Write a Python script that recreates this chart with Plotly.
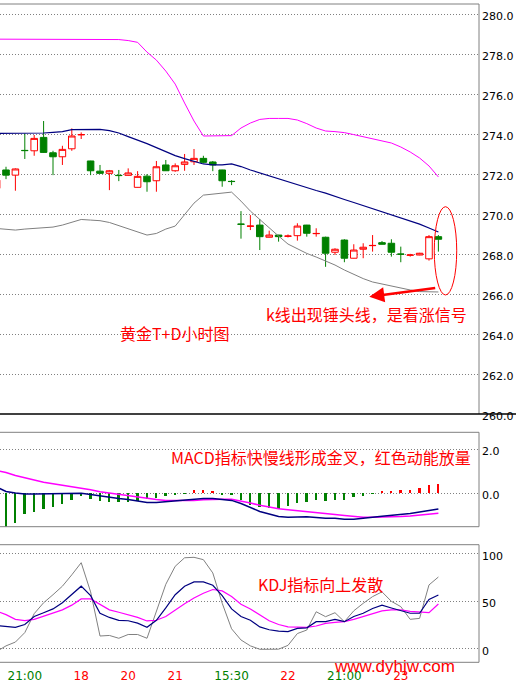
import plotly.graph_objects as go

W, H = 516, 683

# ---------------- data ----------------
candle_idx = list(range(48))
opens = [271.30, 272.22, 271.96, 273.20, 273.18, 273.85, 273.08, 272.88, 273.28, 273.98,
         272.67, 272.16, 272.05, 271.95, 271.95, 271.35, 271.91, 271.68, 272.47, 272.18,
         272.50, 272.63, 272.80, 272.62, 272.22, 271.65, 269.51, 269.40, 269.46, 268.85,
         268.96, 268.90, 268.93, 269.46, 269.03, 268.85, 268.10, 268.71, 267.80, 268.25,
         268.43, 268.58, 268.55, 268.01, 267.95, 267.96, 267.77, 268.88]
highs = [271.80, 272.38, 272.30, 274.05, 273.97, 274.67, 273.18, 273.43, 274.30, 274.10,
         272.68, 272.47, 272.22, 272.22, 272.30, 272.16, 272.01, 272.67, 272.72, 272.55,
         273.02, 273.27, 272.93, 272.67, 272.23, 271.71, 270.16, 269.96, 269.76, 269.18,
         268.97, 268.99, 269.55, 269.47, 269.30, 268.88, 268.30, 268.75, 268.50, 268.55,
         268.96, 268.66, 268.75, 268.38, 268.02, 268.07, 268.96, 268.96]
lows = [271.20, 271.76, 271.18, 272.77, 272.93, 273.08, 271.96, 272.47, 273.18, 273.77,
        271.96, 272.05, 271.21, 271.66, 271.94, 271.34, 271.13, 271.13, 272.18, 272.13,
        272.18, 272.47, 272.55, 272.16, 271.38, 271.46, 268.78, 269.21, 268.21, 268.84,
        268.63, 268.84, 268.68, 268.88, 268.88, 267.37, 267.96, 267.60, 267.79, 267.80,
        268.13, 268.49, 267.88, 267.60, 267.88, 267.95, 267.68, 268.13]
closes = [271.71, 271.96, 272.27, 273.19, 273.80, 273.10, 272.88, 273.25, 273.92, 273.99,
          272.18, 272.05, 272.18, 271.94, 272.07, 271.90, 271.63, 272.38, 272.18, 272.43,
          272.62, 272.80, 272.60, 272.47, 271.68, 271.64, 269.50, 269.41, 268.88, 268.96,
          268.88, 268.91, 269.41, 269.05, 269.04, 268.05, 268.25, 267.80, 268.21, 268.35,
          268.44, 268.50, 268.10, 268.00, 267.96, 268.05, 268.88, 268.75]

boll_upper = [278.77, 278.77, 278.77, 278.77, 278.77, 278.77, 278.77, 278.77, 278.77, 278.77,
              278.77, 278.77, 278.77, 278.75, 278.70, 278.61, 278.12, 277.72, 277.17, 276.52,
              275.57, 274.67, 273.92, 273.92, 273.92, 273.94, 274.32, 274.57, 274.75, 274.80,
              274.80, 274.80, 274.72, 274.54, 274.32, 274.17, 274.14, 274.09, 273.99, 273.89,
              273.77, 273.67, 273.57, 273.37, 273.12, 272.82, 272.42, 271.87]
boll_mid = [274.05, 274.05, 274.05, 274.05, 274.05, 274.07, 274.10, 274.14, 274.24, 274.25,
            274.25, 274.25, 274.19, 274.07, 273.89, 273.72, 273.54, 273.34, 273.12, 272.94,
            272.79, 272.64, 272.52, 272.47, 272.47, 272.52, 272.39, 272.22, 272.07, 271.91,
            271.76, 271.61, 271.46, 271.31, 271.19, 271.06, 270.89, 270.74, 270.59, 270.44,
            270.29, 270.14, 269.99, 269.84, 269.69, 269.51, 269.31, 269.11]
boll_lower = [269.29, 269.24, 269.21, 269.26, 269.30, 269.34, 269.36, 269.46, 269.59, 269.74,
              269.71, 269.68, 269.59, 269.44, 269.29, 269.14, 268.96, 269.04, 269.26, 269.41,
              270.01, 270.56, 270.96, 271.01, 271.09, 271.11, 270.66, 270.16, 269.74, 269.31,
              268.91, 268.51, 268.26, 268.04, 267.86, 267.66, 267.46, 267.21, 266.98, 266.78,
              266.61, 266.51, 266.38, 266.29, 266.21, 266.13, 266.11, 266.11]

macd_dif = [0.28, 0.08, 0.01, -0.03, -0.03, -0.03, -0.03, -0.03, -0.01, 0.00,
            -0.05, -0.12, -0.19, -0.23, -0.28, -0.35, -0.42, -0.42, -0.38, -0.37,
            -0.32, -0.27, -0.23, -0.23, -0.27, -0.32, -0.46, -0.63, -0.82, -0.93,
            -1.05, -1.08, -1.06, -1.06, -1.09, -1.13, -1.13, -1.17, -1.17, -1.14,
            -1.08, -1.04, -1.00, -0.97, -0.91, -0.84, -0.78, -0.71]
macd_dea = [1.03, 0.94, 0.80, 0.69, 0.59, 0.50, 0.43, 0.37, 0.31, 0.24,
            0.16, 0.07, 0.01, -0.04, -0.11, -0.19, -0.24, -0.28, -0.32, -0.33,
            -0.33, -0.32, -0.29, -0.27, -0.27, -0.27, -0.34, -0.44, -0.54, -0.63,
            -0.70, -0.74, -0.79, -0.83, -0.87, -0.91, -0.96, -1.00, -1.04, -1.08,
            -1.08, -1.08, -1.07, -1.05, -1.03, -0.99, -0.94, -0.90]
macd_hist = [-1.60, -1.55, -1.35, -0.95, -0.88, -0.72, -0.63, -0.50, -0.33, -0.15,
             -0.27, -0.38, -0.42, -0.41, -0.41, -0.38, -0.27, -0.23, -0.15, -0.08,
             -0.02, 0.12, 0.15, 0.10, -0.05, -0.05, -0.33, -0.53, -0.63, -0.68,
             -0.72, -0.60, -0.45, -0.41, -0.30, -0.35, -0.30, -0.30, -0.20, -0.12,
             -0.02, 0.10, 0.10, 0.12, 0.15, 0.23, 0.34, 0.41]

kdj_k = [24.5, 23.5, 22.6, 25.5, 34.0, 38.0, 42.0, 48.5, 57.0, 66.0,
         56.0, 37.4, 33.0, 30.0, 29.5, 27.0, 22.6, 30.0, 43.0, 57.0,
         66.0, 70.5, 70.5, 67.0, 56.0, 42.0, 34.0, 30.0, 23.0, 20.0,
         18.5, 18.0, 21.5, 22.0, 28.5, 28.5, 31.0, 28.5, 34.0, 37.4,
         42.5, 46.0, 43.0, 40.0, 37.4, 37.4, 52.0, 56.7]
kdj_d = [39.5, 36.0, 31.0, 29.7, 31.0, 34.5, 37.5, 41.0, 46.0, 52.5,
         52.5, 47.0, 41.0, 38.5, 36.0, 33.0, 29.3, 30.0, 34.0, 41.0,
         47.5, 53.5, 58.5, 62.5, 61.0, 55.0, 47.0, 42.0, 35.6, 29.5,
         25.5, 23.0, 22.8, 22.6, 24.0, 26.8, 27.8, 28.5, 31.0, 33.8,
         36.5, 40.0, 40.9, 40.9, 39.5, 38.5, 38.0, 47.2]
kdj_j = [-3.0, 3.0, 7.0, 17.0, 37.0, 48.5, 57.0, 66.0, 78.0, 90.8,
         60.0, 13.4, 14.0, 11.0, 15.0, 15.0, 11.0, 39.0, 68.0, 87.0,
         96.0, 96.5, 94.0, 80.0, 48.0, 21.0, 9.2, 3.0, -0.6, -0.6,
         -0.5, 3.5, 16.0, 19.7, 39.0, 33.8, 38.0, 28.5, 40.0, 47.9,
         55.0, 60.0, 50.0, 44.4, 31.0, 32.0, 67.3, 75.7]

x_tick_idx = [3, 9, 14, 19, 25, 31, 37, 43]
x_tick_labels = ["21:00", "18", "20", "21", "15:30", "22", "21:00", "23"]
x_tick_colors = ["#008000", "#ff0000", "#ff0000", "#ff0000", "#008000", "#ff0000", "#008000", "#ff0000"]
price_ticks = [260, 262, 264, 266, 268, 270, 272, 274, 276, 278, 280]
macd_ticks = [0, 2]
kdj_ticks = [0, 50, 100]

# ---------------- styling helpers ----------------
RED = "#ff0000"
GREEN = "#008000"
NAVY = "#000080"
MAGENTA = "#ff00ff"
GRAY = "#808080"


def px(x):
    return x / W


def py(y):
    return 1 - y / H


fig = go.Figure()

# main panel: candles + bollinger
fig.add_trace(go.Candlestick(
    x=candle_idx, open=opens, high=highs, low=lows, close=closes,
    increasing=dict(line=dict(color=RED, width=1), fillcolor="#ffffff"),
    decreasing=dict(line=dict(color=GREEN, width=1), fillcolor=GREEN),
    xaxis="x", yaxis="y", showlegend=False, hoverinfo="skip"))
fig.add_trace(go.Scatter(x=candle_idx, y=boll_upper, mode="lines",
                         line=dict(color=MAGENTA, width=1), xaxis="x", yaxis="y", showlegend=False))
fig.add_trace(go.Scatter(x=candle_idx, y=boll_mid, mode="lines",
                         line=dict(color=NAVY, width=1.2), xaxis="x", yaxis="y", showlegend=False))
fig.add_trace(go.Scatter(x=candle_idx, y=boll_lower, mode="lines",
                         line=dict(color=GRAY, width=1), xaxis="x", yaxis="y", showlegend=False))

# MACD panel
fig.add_trace(go.Bar(x=candle_idx, y=macd_hist, width=0.2,
                     marker=dict(color=[RED if v > 0 else GREEN for v in macd_hist], line=dict(width=0)),
                     xaxis="x", yaxis="y2", showlegend=False))
fig.add_trace(go.Scatter(x=candle_idx, y=macd_dea, mode="lines",
                         line=dict(color=MAGENTA, width=1.5), xaxis="x", yaxis="y2", showlegend=False))
fig.add_trace(go.Scatter(x=candle_idx, y=macd_dif, mode="lines",
                         line=dict(color=NAVY, width=1.5), xaxis="x", yaxis="y2", showlegend=False))

# KDJ panel
fig.add_trace(go.Scatter(x=candle_idx, y=kdj_j, mode="lines",
                         line=dict(color=GRAY, width=1), xaxis="x", yaxis="y3", showlegend=False))
fig.add_trace(go.Scatter(x=candle_idx, y=kdj_d, mode="lines",
                         line=dict(color=MAGENTA, width=1.2), xaxis="x", yaxis="y3", showlegend=False))
fig.add_trace(go.Scatter(x=candle_idx, y=kdj_k, mode="lines",
                         line=dict(color=NAVY, width=1.2), xaxis="x", yaxis="y3", showlegend=False))

XR = 479
tick_font = dict(family="DejaVu Sans", size=11, color="#000000")

yaxis_common = dict(side="right", anchor="x", showgrid=True, gridcolor=GRAY, griddash="1px,2px",
                    gridwidth=1, zeroline=False, showline=False, ticks="", automargin=False,
                    tickfont=tick_font, ticklabelstandoff=2, ticklabelshift=2, fixedrange=True)

fig.update_layout(
    width=W, height=H, template="none",
    margin=dict(l=0, r=0, t=0, b=0),
    paper_bgcolor="#ffffff", plot_bgcolor="#ffffff",
    showlegend=False, boxgap=0.15, boxgroupgap=0.18, bargap=0,
    xaxis=dict(domain=[0, px(XR)], range=[0.362, 51.32], anchor="y3",
               rangeslider=dict(visible=False), showgrid=False, zeroline=False,
               showline=False, ticks="", automargin=False,
               tickmode="array", tickvals=x_tick_idx,
               ticktext=[f'<span style="color:{c}">{t}</span>' for t, c in zip(x_tick_labels, x_tick_colors)],
               tickfont=dict(family="DejaVu Sans", size=12), ticklabelstandoff=5),
    yaxis=dict(domain=[py(414), py(4)], range=[260, 280.53],
               tickmode="array", tickvals=price_ticks,
               ticktext=[f"{v:.1f}" for v in price_ticks], **yaxis_common),
    yaxis2=dict(domain=[py(526.7), py(432.3)], range=[-1.508, 2.754],
                tickmode="array", tickvals=macd_ticks,
                ticktext=[f"{v:.1f}" for v in macd_ticks], **yaxis_common),
    yaxis3=dict(domain=[py(662.3), py(544.7)], range=[-14.36, 109.8],
                tickmode="array", tickvals=kdj_ticks,
                ticktext=[str(v) for v in kdj_ticks], **yaxis_common),
)

shapes = []


def line(x0, y0, x1, y1, color=GRAY, width=1):
    shapes.append(dict(type="line", xref="paper", yref="paper",
                       x0=px(x0), y0=py(y0), x1=px(x1), y1=py(y1),
                       line=dict(color=color, width=width), layer="above"))


# main panel frame
line(0, 4, XR, 4)
line(XR, 4, XR, 414)
line(0, 414, W, 414, color="#000000", width=1.5)
# MACD frame
line(0, 432.3, XR, 432.3)
line(0, 526.7, XR, 526.7)
line(XR, 432.3, XR, 526.7)
# KDJ frame
line(0, 544.7, XR, 544.7)
line(0, 662.3, XR, 662.3)
line(XR, 544.7, XR, 662.3)

# red ellipse around last candles
shapes.append(dict(type="circle", xref="x", yref="y", x0=46.56, x1=48.95, y0=265.96, y1=270.38,
                   line=dict(color=RED, width=1), layer="above"))
fig.update_layout(shapes=shapes)

cjk = "Noto Sans CJK SC"
annotations = []


def label(text, x, y, size=16, family=cjk):
    annotations.append(dict(text=text, xref="paper", yref="paper", x=px(x), y=py(y),
                            xanchor="left", yanchor="middle", showarrow=False,
                            font=dict(family=family, size=size, color=RED)))


label("k线出现锤头线，是看涨信号", 264, 313.5)
label("黄金T+D小时图", 118, 332.5)
label("MACD指标快慢线形成金叉，红色动能放量", 169, 457)
label("KDJ指标向上发散", 256, 584)
label("www.dyhjw.com", 332, 666.5, size=17, family="Liberation Sans")

# red arrow pointing left
annotations.append(dict(x=39.65, y=265.87, xref="x", yref="y", ax=46.82, ay=266.32,
                        axref="x", ayref="y", text="", showarrow=True, arrowhead=2,
                        arrowwidth=2.5, arrowsize=1.2, arrowcolor=RED))
fig.update_layout(annotations=annotations)

fig.write_html("out.html", config={"displayModeBar": False},
               post_script="document.body.style.margin='0';document.body.style.padding='0';"
                           "document.documentElement.style.overflow='hidden';")
